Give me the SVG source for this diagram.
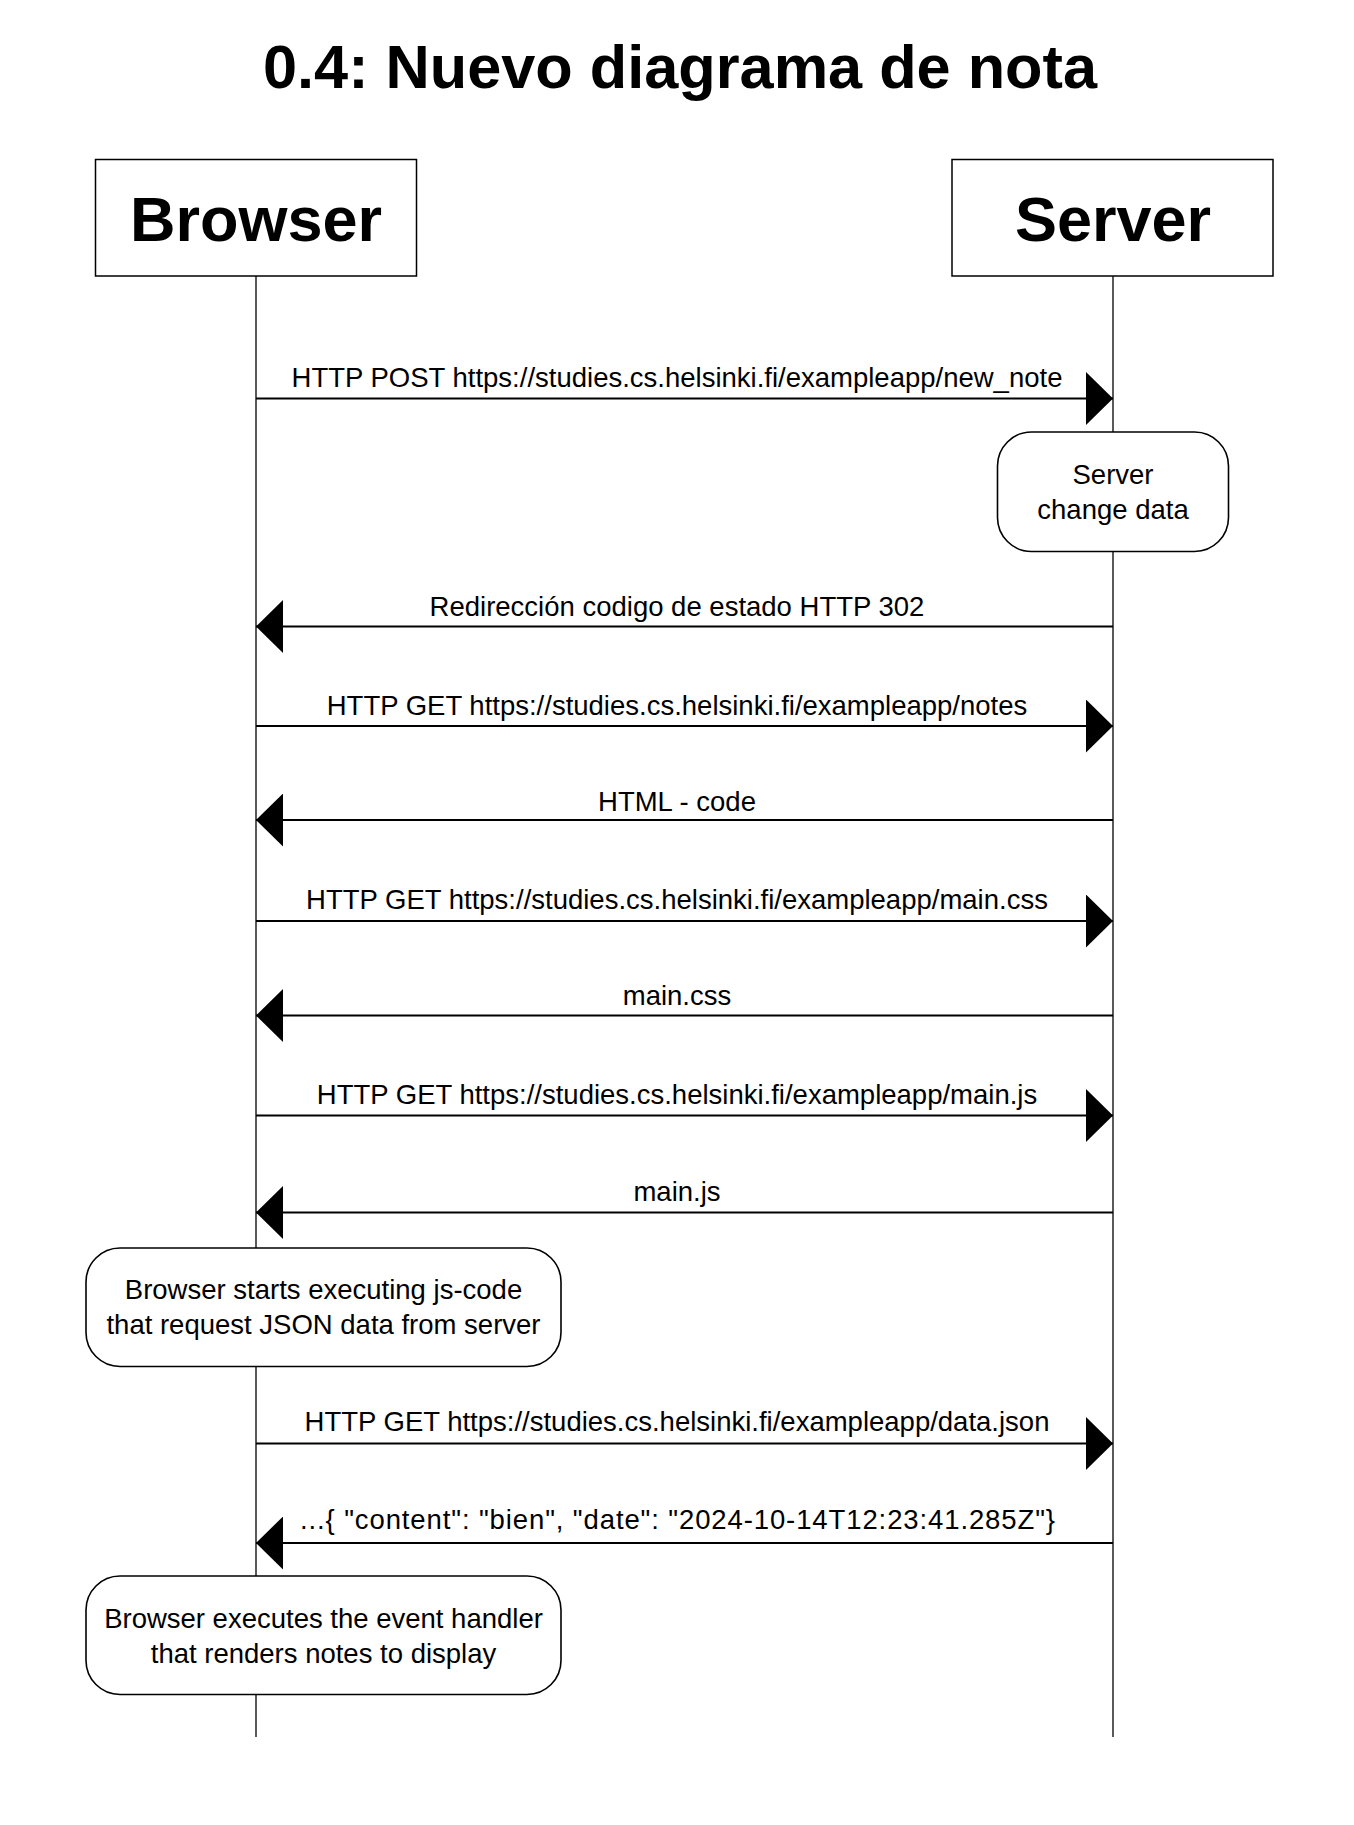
<svg xmlns="http://www.w3.org/2000/svg" width="1354" height="1825" viewBox="0 0 1354 1825">
<defs>
<style>
.title{font-family:"Liberation Sans",Arial,sans-serif;font-weight:bold;font-size:61.5px;text-anchor:middle;fill:#000}
.actor{fill:#fff;stroke:#000;stroke-width:1.5}
.actortext{font-family:"Liberation Sans",Arial,sans-serif;font-weight:bold;font-size:63px;text-anchor:middle;fill:#000}
.life{stroke:#000;stroke-width:1.3;fill:none}
.msg{stroke:#000;stroke-width:2;fill:none}
.lbl{font-family:"Liberation Sans",Arial,sans-serif;font-size:27.5px;text-anchor:middle;fill:#000}
.note{fill:#fff;stroke:#000;stroke-width:1.6}
</style>
<marker id="ah" viewBox="0 0 27 53" refX="27" refY="26.5" markerWidth="27" markerHeight="53" markerUnits="userSpaceOnUse" orient="auto">
<path d="M0,0 L27,26.5 L0,53 Z" fill="#000"/>
</marker>
</defs>
<rect width="1354" height="1825" fill="#fff"/>
<text class="title" x="680" y="87.5" textLength="834" lengthAdjust="spacingAndGlyphs">0.4: Nuevo diagrama de nota</text>

<g id="lifelines">
<line class="life" x1="256" y1="276" x2="256" y2="1737"/>
<line class="life" x1="1113" y1="276" x2="1113" y2="1737"/>
</g>

<g id="browser">
<rect class="actor" x="95.5" y="159.5" width="321" height="116.5"/>
<text class="actortext" x="256" y="241">Browser</text>
</g>
<g id="server">
<rect class="actor" x="952" y="159.5" width="321" height="116.5"/>
<text class="actortext" x="1113" y="241">Server</text>
</g>

<g id="connectors">
<line class="msg" x1="256" y1="398.5" x2="1113" y2="398.5" marker-end="url(#ah)"/>
<text class="lbl" x="677" y="386.5">HTTP POST https://studies.cs.helsinki.fi/exampleapp/new_note</text>

<line class="msg" x1="1113" y1="626.5" x2="256" y2="626.5" marker-end="url(#ah)"/>
<text class="lbl" x="677" y="616">Redirección codigo de estado HTTP 302</text>

<line class="msg" x1="256" y1="726" x2="1113" y2="726" marker-end="url(#ah)"/>
<text class="lbl" x="677" y="714.5">HTTP GET https://studies.cs.helsinki.fi/exampleapp/notes</text>

<line class="msg" x1="1113" y1="820" x2="256" y2="820" marker-end="url(#ah)"/>
<text class="lbl" x="677" y="810.5">HTML - code</text>

<line class="msg" x1="256" y1="921" x2="1113" y2="921" marker-end="url(#ah)"/>
<text class="lbl" x="677" y="908.5">HTTP GET https://studies.cs.helsinki.fi/exampleapp/main.css</text>

<line class="msg" x1="1113" y1="1015.5" x2="256" y2="1015.5" marker-end="url(#ah)"/>
<text class="lbl" x="677" y="1005">main.css</text>

<line class="msg" x1="256" y1="1115.5" x2="1113" y2="1115.5" marker-end="url(#ah)"/>
<text class="lbl" x="677" y="1103.5">HTTP GET https://studies.cs.helsinki.fi/exampleapp/main.js</text>

<line class="msg" x1="1113" y1="1212.5" x2="256" y2="1212.5" marker-end="url(#ah)"/>
<text class="lbl" x="677" y="1200.5">main.js</text>

<line class="msg" x1="256" y1="1443.5" x2="1113" y2="1443.5" marker-end="url(#ah)"/>
<text class="lbl" x="677" y="1430.5">HTTP GET https://studies.cs.helsinki.fi/exampleapp/data.json</text>

<line class="msg" x1="1113" y1="1543" x2="256" y2="1543" marker-end="url(#ah)"/>
<text class="lbl" x="677.5" y="1528.5" textLength="755" lengthAdjust="spacing">...{ "content": "bien", "date": "2024-10-14T12:23:41.285Z"}</text>
</g>

<g id="note-server">
<rect class="note" x="997.5" y="432" width="231" height="119.5" rx="34" ry="34"/>
<text class="lbl" x="1113" y="484">Server</text>
<text class="lbl" x="1113" y="519">change data</text>
</g>

<g id="note-browser-1">
<rect class="note" x="86" y="1248" width="475" height="118.5" rx="34" ry="34"/>
<text class="lbl" x="323.5" y="1299">Browser starts executing js-code</text>
<text class="lbl" x="323.5" y="1334">that request JSON data from server</text>
</g>

<g id="note-browser-2">
<rect class="note" x="86" y="1576" width="475" height="118.5" rx="34" ry="34"/>
<text class="lbl" x="323.5" y="1627.5">Browser executes the event handler</text>
<text class="lbl" x="323.5" y="1662.5">that renders notes to display</text>
</g>
</svg>
